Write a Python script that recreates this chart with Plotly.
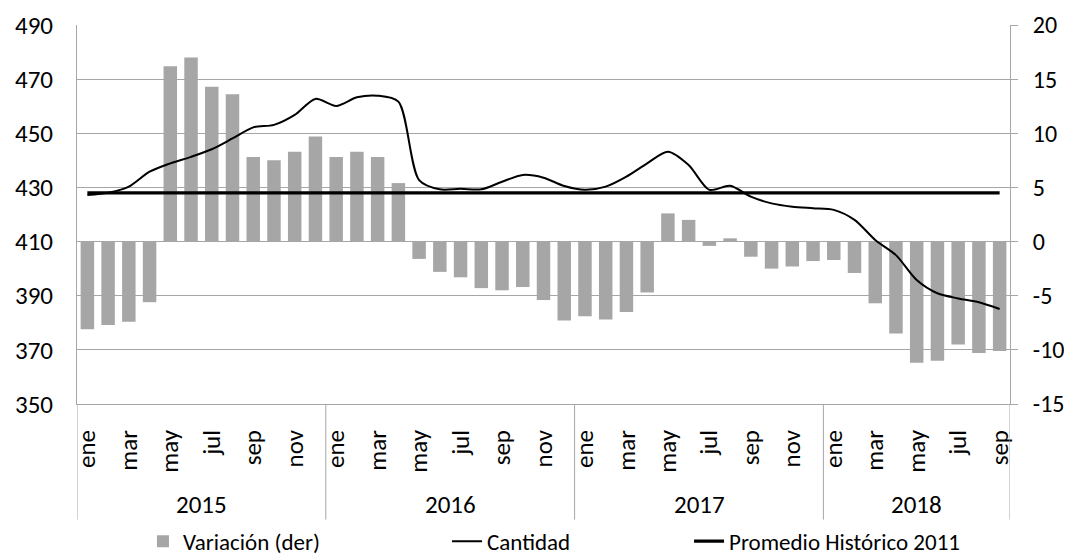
import plotly.graph_objects as go

years = ["2015", "2016", "2017", "2018"]
month_names = ["ene", "feb", "mar", "abr", "may", "jun", "jul", "ago", "sep", "oct", "nov", "dic"]
n_months = 45  # ene 2015 .. sep 2018

variacion = [
    -8.1, -7.7, -7.4, -5.6, 16.2, 17.0, 14.3, 13.6, 7.8, 7.5, 8.3, 9.7,
    7.8, 8.3, 7.8, 5.4, -1.6, -2.8, -3.3, -4.3, -4.5, -4.2, -5.4, -7.3,
    -6.9, -7.2, -6.5, -4.7, 2.6, 2.0, -0.4, 0.3, -1.4, -2.5, -2.3, -1.8,
    -1.7, -2.9, -5.7, -8.5, -11.2, -11.0, -9.5, -10.3, -10.1,
]
cantidad = [
    427.2, 428.0, 430.3, 435.8, 438.9, 441.3, 444.1, 448.1, 452.2, 453.1, 456.8, 462.7,
    460.1, 463.3, 463.9, 461.7, 432.7, 429.3, 429.5, 429.3, 432.1, 434.6, 433.6, 430.5,
    429.1, 430.3, 434.0, 438.9, 443.2, 438.3, 429.1, 430.6, 426.6, 424.1, 422.9, 422.3,
    421.7, 418.0, 410.6, 405.0, 395.8, 390.9, 389.0, 387.6, 385.1,
]
promedio_2011 = 428.0

right_ticks = [-15, -10, -5, 0, 5, 10, 15, 20]
right_tick_text = ["-15", "-10", "-5", "0", "5", "10", "15", "20"]
left_ticks = [350, 370, 390, 410, 430, 450, 470, 490]

x = list(range(n_months))
tick_idx = [i for i in x if i % 2 == 0]
tick_text = [month_names[i % 12] for i in tick_idx]

FONT = "Calibri, Carlito, Lato, sans-serif"
FS = 25
FS_RIGHT = 24
FS_LEG = 23
GRID = "#a6a6a6"

fig = go.Figure()
fig.add_trace(go.Bar(
    x=x, y=variacion, name="Variación (der)", yaxis="y", legend="legend",
    marker=dict(color="#a6a6a6", line=dict(width=0)), width=0.65,
))
fig.add_trace(go.Scatter(
    x=x, y=cantidad, name="Cantidad", yaxis="y2", mode="lines", legend="legend2",
    line=dict(color="black", width=2, shape="spline", smoothing=0.8),
))
fig.add_trace(go.Scatter(
    x=x, y=[promedio_2011] * n_months, name="Promedio Histórico 2011", yaxis="y2",
    legend="legend3", mode="lines", line=dict(color="black", width=3.2),
))

shapes = []
for b in [-0.5, 11.5, 23.5, 35.5, 44.5]:
    shapes.append(dict(type="line", xref="x", yref="paper", x0=b, x1=b, y0=0, y1=-0.305,
                       line=dict(color=GRID, width=1)))

annotations = []
for k, yr in enumerate(years):
    start = k * 12
    end = min(start + 11, n_months - 1)
    annotations.append(dict(x=(start + end) / 2, y=-0.264, xref="x", yref="paper",
                            text=yr, showarrow=False,
                            font=dict(family=FONT, size=FS, color="black"),
                            yanchor="middle", xanchor="center"))

leg_common = dict(orientation="h", y=-0.362, yanchor="middle", xanchor="left",
                  font=dict(family=FONT, size=FS_LEG, color="black"),
                  bgcolor="rgba(0,0,0,0)", borderwidth=0)

fig.update_layout(
    # the page body adds an 8px offset; the figure is sized/margined so the plot lands
    # where the reference has it inside the 1072x558 window
    width=1064, height=550,
    margin=dict(l=69, r=62, t=17, b=154, autoexpand=False),
    paper_bgcolor="white", plot_bgcolor="white",
    font=dict(family=FONT, size=FS, color="black"),
    bargap=0.35,
    showlegend=True,
    legend=dict(x=0.0707, **leg_common),
    legend2=dict(x=0.3966, **leg_common),
    legend3=dict(x=0.656, **leg_common),
    xaxis=dict(range=[-0.5, n_months - 0.5], tickmode="array", tickvals=tick_idx,
               ticktext=tick_text, tickangle=-90, showgrid=False, zeroline=False,
               showline=True, linecolor=GRID, linewidth=1, ticks="",
               ticklabelstandoff=15,
               tickfont=dict(family=FONT, size=FS, color="black")),
    yaxis=dict(side="right", range=[-15, 20], tickmode="array", tickvals=right_ticks,
               ticktext=right_tick_text, showgrid=True,
               gridcolor=GRID, gridwidth=1, zeroline=False, showline=True,
               linecolor=GRID, linewidth=1, ticks="outside", ticklen=7, tickcolor=GRID,
               ticklabelstandoff=10,
               tickfont=dict(family=FONT, size=FS_RIGHT, color="black")),
    yaxis2=dict(side="left", overlaying="y", range=[350, 490], tickmode="array",
                tickvals=left_ticks, showgrid=False, zeroline=False, showline=True,
                linecolor=GRID, linewidth=1, ticks="", ticklabelstandoff=18,
                tickfont=dict(family=FONT, size=FS, color="black")),
    shapes=shapes,
    annotations=annotations,
)

fig.write_html("out.html")
